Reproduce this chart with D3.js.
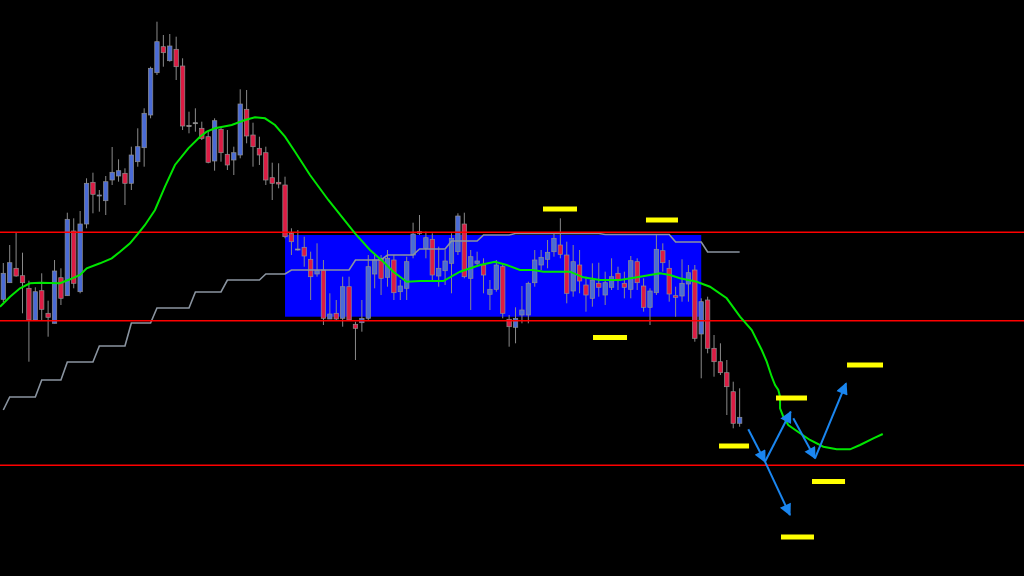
<!DOCTYPE html>
<html>
<head>
<meta charset="utf-8">
<script src="https://cdn.jsdelivr.net/npm/d3@7"></script>
<style>
html, body { margin: 0; padding: 0; background: #000; overflow: hidden; }
</style>
</head>
<body>
<script>
// candles (price units, one per bar)
var opens = [276.7,293.3,307.7,300.3,287.7,256,285.3,262.7,252.7,298.3,
	280.3,345,284.3,352,393.7,380,375.3,396,400,402.7,
	392.7,414.3,428.3,461,503.3,529.3,515.3,526.7,510,450.5,
	453.3,447.7,439.3,415,446.7,421.7,416,421,466.7,441,
	427.7,423.3,398.3,393.7,391,342.7,327,328.7,316.7,302,
	306,257,262.7,257.7,289.3,251.7,253.3,257.7,302,317.7,
	298.7,316,284.3,287.7,321,344.3,327.7,336.7,300,305.3,
	312.7,324.3,352,297.7,312.7,311,281.7,286.7,309.3,256.7,
	248.7,261,261,293.3,311,316.7,324.3,331,321,285,
	311,291,277.7,292.7,281,288.7,302.7,292.7,286.7,314.3,
	290,268.7,283.3,325.3,307.7,280.3,280,292,306,242,
	276,227.7,214.3,203.3,184.3,152.7];
var highs = [313,331,343.3,323.3,295.3,288.7,302.7,275.3,316,307.7,
	363.3,357.7,365,397.7,403.3,386,400,429,416.7,407.7,
	429.3,447.7,467.7,509.3,554.3,541,542,539.3,517.7,464.3,
	467.7,454.3,444.3,457.7,449.3,446,429.3,486.7,486,453.3,
	439.3,429.3,413.3,412.7,399.3,347.7,346,339.3,324.3,332.7,
	316,282.7,276,299.3,299.3,254.3,276,321,321,321,
	326,321,296,319.3,353.3,361,344.3,342.7,329.3,326,
	342.7,362.7,363.3,326,324.3,317.7,296,316,311,261,
	268.7,290,294.3,326,326,336,342.7,357.7,334.3,331,
	326,299.3,312.7,313.3,304.3,317.7,309.3,304.3,320,317.7,
	297.7,287.7,341,332.7,316,289.3,316.7,311,311,277.7,
	279.3,241,232.7,216,194.3,187.7];
var lows = [274,293,299.3,262.7,214.3,256,256,239.3,252.7,271,
	280.3,287.7,282.7,347.7,362.7,364.3,361,391,394.3,371,
	386,409.3,409.3,457.7,501,509.3,514.3,496,446,442.7,
	444.3,436,412.7,405.3,414.3,406,401,417.7,432.7,409.3,
	411,391,376,387.7,337.7,321,325.3,309.3,276,299.3,
	251,257,256,249.3,256,216,244.3,256,287.7,281,
	289.3,276,276,276,317.7,341,317.7,296,289.3,291,
	282.7,321,297.7,266,311,282.7,266,284.3,257.7,229.3,
	232.7,252.7,252.7,289.3,306,307.7,319.3,317.7,272.7,279.3,
	282.7,264.3,269.3,279.3,271,286,286,277.7,277.7,286,
	264.3,251,281,304.3,274.3,259.3,274.3,274.3,234.3,197.7,
	222.7,199.3,201,161,147.7,149.3];
var closes = [302.7,313.3,300,293.3,256,284.3,266.7,258.7,305,277.7,
	356.7,292.7,352,392.7,381.7,381,394.3,403.7,405.3,392.7,
	421,429.3,462.7,507.7,534.3,523.3,530,509.3,450,450.5,
	453.3,437.7,413.7,455.3,423.3,411,423.3,472,440,429.3,
	421,396,392.7,392,339.3,334.3,327,320,299.3,305.3,
	257.7,262,257,289.3,256,247.7,257.7,309.3,316,297.7,
	317.7,283.3,290,314.3,342,342.7,338.3,301,307.7,315,
	337.7,360,299.3,319.3,315,301,286.7,311,262.7,249.3,
	257.7,266,292.7,316,318.7,323.7,337.7,321.7,282.7,314.3,
	295,281,296,288.7,293.3,299.3,296,288.7,315.3,293.3,
	268.7,285,326.7,313.3,282,278.7,292.7,303.3,237.7,274.3,
	227.7,214.3,203.3,189.3,152.7,158.7];

// stepped higher-timeframe average, one value per bar
var slowAvg = [166,179,179,179,179,179,196,196,196,196,
	214,214,214,214,214,230,230,230,230,230,
	253,253,253,253,268,268,268,268,268,268,
	284,284,284,284,284,296,296,296,296,296,
	296,302,302,302,302,306,306,306,306,306,
	306,306,306,306,306,316,316,316,316,316,
	321,321,321,321,321,327,327,327,327,327,
	335,335,335,335,335,341,341,341,341,341,
	342.5,342.5,342.5,342.5,342.5,342.5,342.5,342.5,342.5,342.5,
	342.5,342.5,342.5,342.5,341.5,341.5,341.5,341.5,341.5,341.5,
	341.5,341.5,341.5,341.5,341.5,334,334,334,334,334,
	324,324,324,324,324,324];

// green average incl. the hand drawn projection (bar position, price)
var maBar = [-0.52,1.05,2.61,4.17,5.73,8.86,10.42,11.98,13.03,15.10,
	16.93,18.23,19.79,21.08,22.13,23.69,25.25,26.81,28.89,30.72,
	31.77,33.06,35.67,37.75,39.31,40.87,42.43,43.99,45.56,47.90,
	50.76,54.93,57.27,59.35,60.91,63.00,65.08,68.72,71.33,74.45,
	76.79,78.62,80.70,82.77,84.34,88.51,90.58,93.19,96.31,99.44,
	102.56,104.12,105.68,108.29,110.37,112.98,115.06,116.89,118.45,119.23,
	120.01,120.53,121.04,121.31,121.31,121.82,122.60,124.43,125.99,128.07,
	130.16,132.24,133.80,135.88,137.35];
var maVal = [269.3,279.3,287.7,292.7,293.3,292.7,296.7,301,307.7,312.7,
	317.7,324.3,332.7,342.7,351,366,389.3,411,427.7,439.3,
	444.3,447.7,451,456,458.7,457.7,451,439.3,424.3,401,
	376,342.7,326,314.3,304.3,294.3,295,295,304.3,311,
	314.3,311,306,306,304.3,304.3,298.7,296,296,299.3,
	302.7,301,297.7,294.3,289.3,277.7,259.3,246,226,214.3,
	199.3,191,186,179.3,167.7,159.3,151,142.7,136,129.3,
	126.7,126.7,131,137.7,142];

// horizontal levels and range box
var levels = [343.7, 255.3, 110.7];
var boxBars = [44, 109];
var boxPrices = [259.3, 341];

// yellow target marks
var markFrom = [84.29, 100.37, 92.10, 111.78, 120.68, 131.77, 126.30, 121.46];
var markTo = [89.60, 105.37, 97.41, 116.47, 125.52, 137.39, 131.46, 126.61];
var markPrice = [367, 356, 238.5, 130, 178, 211, 94.5, 39];

// blue scenario arrows
var arrowBar0 = [116.35, 118.96, 118.96, 123.38, 126.77];
var arrowVal0 = [146.7, 114.3, 114.3, 157.7, 117.7];
var arrowBar1 = [118.96, 122.97, 122.86, 126.77, 131.62];
var arrowVal1 = [114.3, 164.3, 61, 117.7, 192.7];

var W = 1024, H = 576;

var x = d3.scaleLinear().domain([-0.515, 159.41]).range([0, W]);
var y = d3.scaleLinear().domain([0, 576]).range([H, 0]);

var svg = d3.select('body').append('svg')
	.attr('width', W)
	.attr('height', H)
	.style('display', 'block')
	.style('background', '#000');

var defs = svg.append('defs');
defs.append('marker')
	.attr('id', 'head')
	.attr('viewBox', '0 0 10 10')
	.attr('refX', 9)
	.attr('refY', 5)
	.attr('markerUnits', 'userSpaceOnUse')
	.attr('markerWidth', 15)
	.attr('markerHeight', 12)
	.attr('orient', 'auto')
	.append('path')
	.attr('d', 'M0,0 L10,5 L0,10 Z')
	.attr('fill', '#1a86f0');

// range box
svg.append('rect')
	.attr('x', x(boxBars[0]))
	.attr('y', y(boxPrices[1]))
	.attr('width', x(boxBars[1]) - x(boxBars[0]))
	.attr('height', y(boxPrices[0]) - y(boxPrices[1]))
	.attr('fill', '#0000ff');

var bars = d3.range(opens.length);

// wicks
svg.append('g').selectAll('line')
	.data(bars)
	.enter().append('line')
	.attr('x1', function(i) { return x(i); })
	.attr('x2', function(i) { return x(i); })
	.attr('y1', function(i) { return y(highs[i]); })
	.attr('y2', function(i) { return y(lows[i]); })
	.attr('stroke', '#8a8a8a')
	.attr('stroke-width', 1);

// bodies
svg.append('g').selectAll('rect')
	.data(bars)
	.enter().append('rect')
	.attr('x', function(i) { return x(i) - 2.2; })
	.attr('width', 4.4)
	.attr('y', function(i) { return y(Math.max(opens[i], closes[i])); })
	.attr('height', function(i) { return Math.max(1, Math.abs(y(opens[i]) - y(closes[i]))); })
	.attr('fill', function(i) {
		if (opens[i] === closes[i]) return '#b0b0b0';
		return closes[i] > opens[i] ? '#4a6bd6' : '#dc1c44';
	})
	.attr('stroke', '#8f8f8f')
	.attr('stroke-width', 0.7);

// stepped average
svg.append('path')
	.datum(bars)
	.attr('d', d3.line().x(function(i) { return x(i); }).y(function(i) { return y(slowAvg[i]); }))
	.attr('fill', 'none')
	.attr('stroke', '#8a94a0')
	.attr('stroke-width', 1.6);

// horizontal red levels
svg.append('g').selectAll('line')
	.data(levels)
	.enter().append('line')
	.attr('x1', 0)
	.attr('x2', W)
	.attr('y1', function(d) { return y(d); })
	.attr('y2', function(d) { return y(d); })
	.attr('stroke', '#ff0000')
	.attr('stroke-width', 1.4);

// green average
svg.append('path')
	.datum(d3.range(maBar.length))
	.attr('d', d3.line().x(function(k) { return x(maBar[k]); }).y(function(k) { return y(maVal[k]); }))
	.attr('fill', 'none')
	.attr('stroke', '#00e600')
	.attr('stroke-width', 2);

// yellow marks
svg.append('g').selectAll('rect')
	.data(markPrice)
	.enter().append('rect')
	.attr('x', function(d, k) { return x(markFrom[k]); })
	.attr('width', function(d, k) { return x(markTo[k]) - x(markFrom[k]); })
	.attr('y', function(d) { return y(d) - 2.5; })
	.attr('height', 5)
	.attr('fill', '#ffff00');

// arrows
svg.append('g').selectAll('line')
	.data(arrowBar0)
	.enter().append('line')
	.attr('x1', function(d, k) { return x(arrowBar0[k]); })
	.attr('y1', function(d, k) { return y(arrowVal0[k]); })
	.attr('x2', function(d, k) { return x(arrowBar1[k]); })
	.attr('y2', function(d, k) { return y(arrowVal1[k]); })
	.attr('stroke', '#1a86f0')
	.attr('stroke-width', 2)
	.attr('marker-end', 'url(#head)');
</script>
</body>
</html>
